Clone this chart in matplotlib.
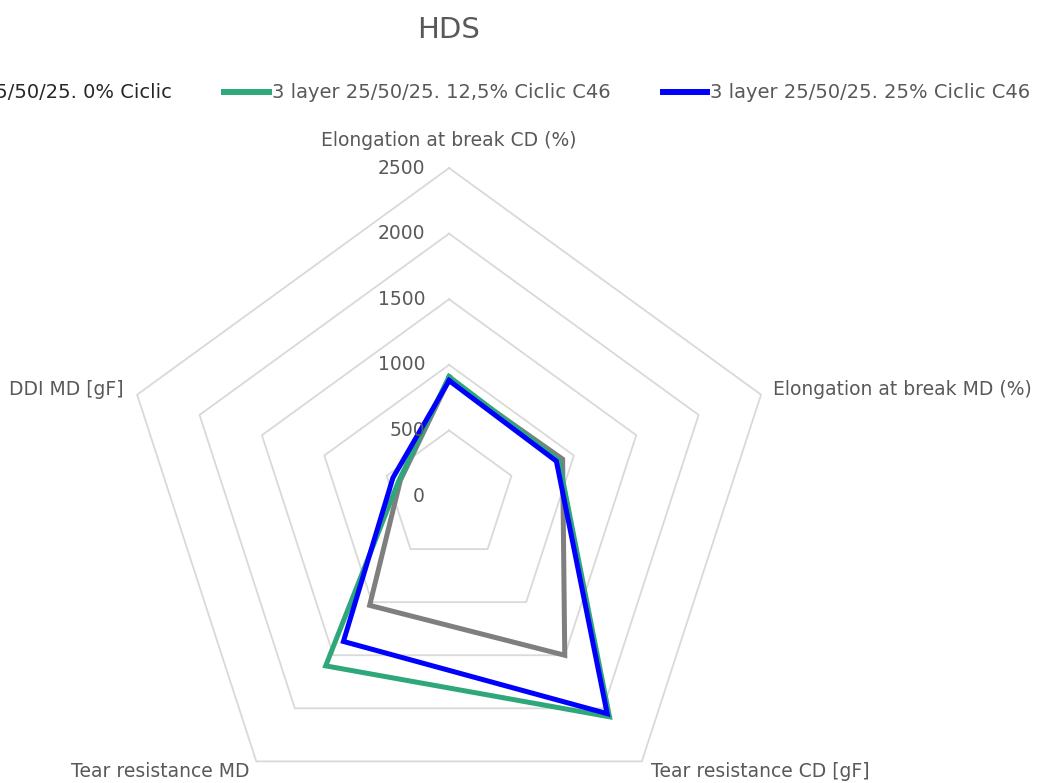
import matplotlib.pyplot as plt
import numpy as np

categories = ["Elongation at break CD (%)", "Elongation at break MD (%)",
              "Tear resistance CD [gF]", "Tear resistance MD", "DDI MD [gF]"]
series_names = ["3 layer 25/50/25. 0% Ciclic",
                "3 layer 25/50/25. 12,5% Ciclic C46",
                "3 layer 25/50/25. 25% Ciclic C46"]
ciclic_0 = [890, 910, 1500, 1030, 390]
ciclic_12 = [910, 880, 2080, 1600, 400]
ciclic_25 = [880, 860, 2050, 1370, 450]
r_ticks = [0, 500, 1000, 1500, 2000, 2500]

colors = ["#7f7f7f", "#2ea87a", "#0000ff"]
txt = "#595959"

fig = plt.figure(figsize=(10.49, 7.83), dpi=100)
# polar axes centred on (449, 496) px, radius 328 px
ax = fig.add_axes([0.1154, -0.0524, 0.6254, 0.8378], projection="polar")
ax.set_theta_offset(np.pi / 2)
ax.set_theta_direction(-1)
ax.set_ylim(0, r_ticks[-1])
ax.grid(False)
ax.spines["polar"].set_visible(False)
ax.set_xticks([])
ax.set_yticks([])
ax.patch.set_visible(False)

n = len(categories)
angles = np.linspace(0, 2 * np.pi, n, endpoint=False)
ang_c = np.append(angles, angles[0])

# pentagon grid
for t in r_ticks[1:]:
    ax.plot(ang_c, [t] * (n + 1), color="#d9d9d9", lw=1.3, zorder=1, clip_on=False)

for vals, c, name in zip([ciclic_0, ciclic_12, ciclic_25], colors, series_names):
    ax.plot(ang_c, vals + vals[:1], color=c, lw=3.6, label=name, zorder=3,
            solid_joinstyle="miter", clip_on=False)

# radial tick labels
for t in r_ticks:
    ax.annotate(str(t), xy=(0, t), xytext=(-24, 0), textcoords="offset pixels",
                ha="right", va="center", fontsize=13.5, color=txt, zorder=4)

# category labels
offs = [(0, 28, "center"), (12, 5, "left"), (9, -10, "left"),
        (-7, -10, "right"), (-14, 5, "right")]
for a, lab, (dx, dy, ha) in zip(angles, categories, offs):
    ax.annotate(lab, xy=(a, r_ticks[-1]), xytext=(dx, dy),
                textcoords="offset pixels", ha=ha, va="center",
                fontsize=13.5, color=txt, annotation_clip=False)

fig.text(449 / 1049, 1 - 30 / 783, "HDS", ha="center", va="center",
         fontsize=21, color=txt)

# legend runs off the left edge, as in the original
leg = fig.legend(loc="center right", bbox_to_anchor=(1048 / 1049, 1 - 93 / 783),
                 ncol=3, frameon=False, fontsize=14, handlelength=2.3,
                 handletextpad=0.15, columnspacing=2.7)
for i, t in enumerate(leg.get_texts()):
    t.set_color("#262626" if i == 0 else txt)
for h in leg.get_lines():
    h.set_linewidth(4.3)

plt.savefig("out.png", dpi=100)
